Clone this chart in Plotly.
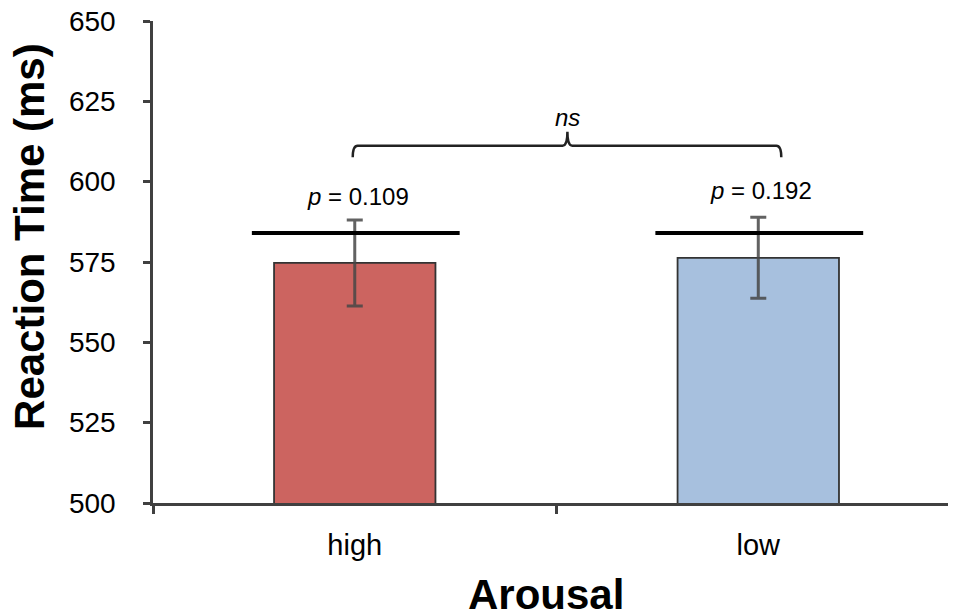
import plotly.graph_objects as go

# ---- data ----
categories = ["high", "low"]
mean_rt = [574.7, 576.3]
sem_rt = [13.4, 12.6]
reference_rt = [584, 584]
p_labels = ["<i>p</i> = 0.109", "<i>p</i> = 0.192"]
bar_colors = ["#cc6460", "#a7c0de"]
y_ticks = [500, 525, 550, 575, 600, 625, 650]

FONT = "Liberation Sans, Arial, sans-serif"
AX = "#404040"

fig = go.Figure()
fig.add_trace(go.Bar(
    x=categories, y=mean_rt, width=0.4,
    marker=dict(color=bar_colors, line=dict(color="#333333", width=1.8)),
    error_y=dict(type="data", array=sem_rt, visible=True,
                 color="rgba(70,70,70,0.85)", thickness=3, width=8),
    showlegend=False,
))

shapes = []
for i, ref in enumerate(reference_rt):
    shapes.append(dict(type="line", xref="x", yref="y",
                       x0=i - 0.255, x1=i + 0.26, y0=ref, y1=ref,
                       line=dict(color="black", width=4)))

# significance brace
bx0, bx1, bxm = -0.005, 1.057, 0.527
by, bend, bpeak = 611.2, 607.6, 615.5
path = (f"M {bx0},{bend} Q {bx0},{by} {bx0+0.012},{by} "
        f"L {bxm-0.012},{by} Q {bxm},{by} {bxm},{bpeak} "
        f"Q {bxm},{by} {bxm+0.012},{by} "
        f"L {bx1-0.012},{by} Q {bx1},{by} {bx1},{bend}")
shapes.append(dict(type="path", xref="x", yref="y", path=path,
                   line=dict(color="#222222", width=2.5)))

annotations = []
p_y = [595.5, 597.4]
for i, lab in enumerate(p_labels):
    annotations.append(dict(x=i, y=p_y[i], xref="x", yref="y", text=lab,
                            showarrow=False, xshift=3,
                            font=dict(family=FONT, size=24, color="black")))
annotations.append(dict(x=bxm, y=620.1, xref="x", yref="y", text="<i>ns</i>",
                        showarrow=False, font=dict(family=FONT, size=24, color="black")))
annotations.append(dict(x=0, y=0.552, xref="paper", yref="paper", xshift=-123,
                        xanchor="center", yanchor="middle",
                        text="<b>Reaction Time (ms)</b>", textangle=-90, showarrow=False,
                        font=dict(family=FONT, size=42, color="black")))
annotations.append(dict(x=0.49, y=-0.19, xref="paper", yref="paper",
                        text="<b>Arousal</b>", showarrow=False, yanchor="middle",
                        xanchor="center",
                        font=dict(family=FONT, size=42, color="black")))

fig.update_layout(
    width=956, height=615,
    margin=dict(l=145, r=8, t=13, b=120),
    paper_bgcolor="white", plot_bgcolor="white",
    shapes=shapes, annotations=annotations,
    bargap=0.6,
    xaxis=dict(type="category", range=[-0.5, 1.49], tickson="boundaries",
               ticks="outside", ticklen=8, tickwidth=2.5, tickcolor=AX,
               showline=True, linecolor=AX, linewidth=2.5, showgrid=False,
               ticklabelstandoff=14, automargin=False,
               tickfont=dict(family=FONT, size=29, color="black")),
    yaxis=dict(range=[500, 650], tickvals=y_ticks, ticks="outside", ticklen=7,
               tickwidth=2.5, tickcolor=AX, showline=True, linecolor=AX,
               linewidth=2.5, showgrid=False, zeroline=False,
               ticklabelstandoff=22, ticklabeloverflow="allow", automargin=False,
               tickfont=dict(family=FONT, size=28, color="black")),
)

fig.write_html("out.html")
